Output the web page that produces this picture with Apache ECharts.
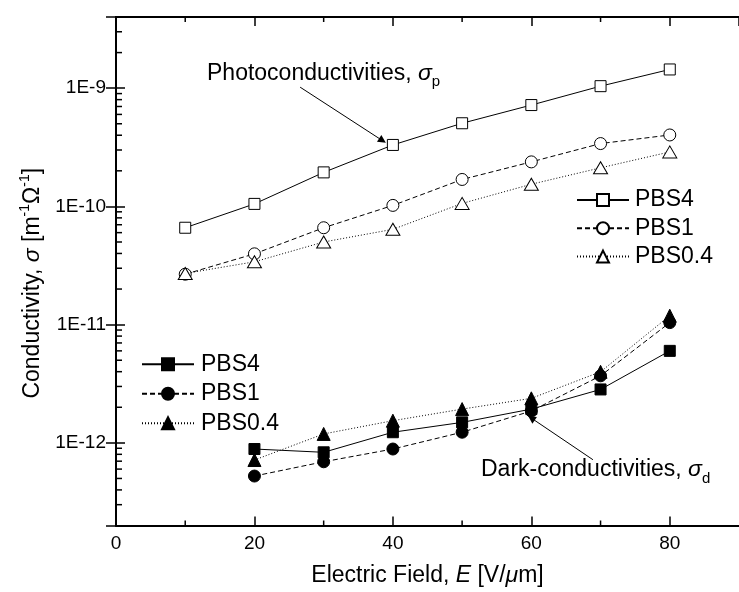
<!DOCTYPE html>
<html><head><meta charset="utf-8">
<script src="https://cdn.jsdelivr.net/npm/echarts@6/dist/echarts.min.js"></script>
<style>html,body{margin:0;padding:0;background:#fff}#c{width:739px;height:592px}</style>
</head><body><div id="c"></div>
<script>
// ---- data ----
const fieldValues = [10, 20, 30, 40, 50, 60, 70, 80];
const darkFieldValues = [20, 30, 40, 50, 60, 70, 80];
const photoPBS4 = [6.6e-11, 1.05e-10, 1.94e-10, 3.31e-10, 5.05e-10, 7.2e-10, 1.04e-9, 1.44e-9];
const photoPBS1 = [2.67e-11, 3.97e-11, 6.6e-11, 1.02e-10, 1.69e-10, 2.38e-10, 3.4e-10, 4.02e-10];
const photoPBS04 = [2.71e-11, 3.4e-11, 5.0e-11, 6.4e-11, 1.06e-10, 1.54e-10, 2.12e-10, 2.89e-10];
const darkPBS4 = [8.87e-13, 8.32e-13, 1.23e-12, 1.49e-12, 1.93e-12, 2.83e-12, 6.0e-12];
const darkPBS1 = [5.24e-13, 6.92e-13, 8.87e-13, 1.23e-12, 1.86e-12, 3.69e-12, 1.04e-11];
const darkPBS04 = [7.16e-13, 1.19e-12, 1.54e-12, 1.93e-12, 2.38e-12, 3.99e-12, 1.19e-11];
const photoNames = ['PBS4', 'PBS1', 'PBS0.4'];
const darkNames = ['PBS4 ', 'PBS1 ', 'PBS0.4 '];
const xTickValues = [0, 20, 40, 60, 80];
const xTickLabels = ['0', '20', '40', '60', '80'];
const xMinorTicks = [10, 30, 50, 70];
const yTickValues = [1e-12, 1e-11, 1e-10, 1e-9];
const yTickLabels = ['1E-12', '1E-11', '1E-10', '1E-9'];
const yMinorMultipliers = [2, 3, 4, 5, 6, 7, 8, 9];
const yMinorDecades = [1e-13, 1e-12, 1e-11, 1e-10, 1e-9];
const xRange = [0, 90];
const yRange = [2e-13, 4e-9];
// annotation arrows in data coordinates [x, y]
const photoArrow = [[26.6, 1.02e-9], [38.5, 3.6e-10]];
const darkArrow = [[68.9, 7.2e-13], [60.0, 1.62e-12]];

const FF = '"Liberation Sans", Arial, sans-serif';
const yMinorTicks = [];
yMinorDecades.forEach(d => yMinorMultipliers.forEach(m => {
  const v = m * d;
  if (v > yRange[0] * 1.0001 && v < yRange[1] * 0.9999) yMinorTicks.push(v);
}));

function lineSeries(name, xs, ys, symbol, size, filled, dash) {
  return {
    type: 'line', name: name,
    data: xs.map((x, i) => [x, ys[i]]),
    symbol: symbol, symbolSize: size, showAllSymbol: true,
    lineStyle: { color: '#000', width: 1, type: dash },
    itemStyle: { color: filled ? '#000' : '#fff', borderColor: '#000', borderWidth: 1 },
    emphasis: { disabled: true }, silent: true, animation: false, z: 3
  };
}

const sPhoto4 = lineSeries(photoNames[0], fieldValues, photoPBS4, 'rect', 11, false, 'solid');
const sPhoto1 = lineSeries(photoNames[1], fieldValues, photoPBS1, 'circle', 12, false, [5, 3]);
const sPhoto04 = lineSeries(photoNames[2], fieldValues, photoPBS04, 'triangle', [14, 12], false, [1, 2]);
const sDark4 = lineSeries(darkNames[0], darkFieldValues, darkPBS4, 'rect', 11, true, 'solid');
const sDark1 = lineSeries(darkNames[1], darkFieldValues, darkPBS1, 'circle', 12, true, [5, 3]);
const sDark04 = lineSeries(darkNames[2], darkFieldValues, darkPBS04, 'triangle', [13, 13], true, [1, 2]);

function arrowMark(pts) {
  return {
    silent: true, symbol: ['none', 'triangle'], symbolSize: 8,
    label: { show: false }, emphasis: { disabled: true },
    lineStyle: { color: '#000', width: 1, type: 'solid' },
    itemStyle: { color: '#000' },
    data: [[{ coord: pts[0] }, { coord: pts[1] }]]
  };
}
sPhoto4.markLine = arrowMark(photoArrow);
sDark4.markLine = arrowMark(darkArrow);

const tickLine = { lineStyle: { color: '#000', width: 1.5 } };
const axisLine = { lineStyle: { color: '#000', width: 2 } };

const option = {
  animation: false,
  backgroundColor: '#fff',
  grid: { left: 116, top: 17, right: -6, bottom: 66, containLabel: false },
  xAxis: [
    {
      type: 'value', min: xRange[0], max: xRange[1], interval: 20, position: 'bottom',
      axisLine: axisLine, axisTick: Object.assign({ inside: true, length: 9 }, tickLine),
      splitLine: { show: false },
      axisLabel: {
        color: '#000', fontFamily: FF, fontSize: 19, margin: 9,
        showMaxLabel: false,
        formatter: v => { const i = xTickValues.indexOf(v); return i >= 0 ? xTickLabels[i] : ''; }
      },
      name: '{a|Electric Field, }{i|E}{a| [V/}{i|μ}{a|m]}',
      nameLocation: 'middle', nameGap: 35,
      nameTextStyle: {
        color: '#000', fontFamily: FF, fontSize: 23,
        rich: {
          a: { fontFamily: FF, fontSize: 23, color: '#000', lineHeight: 30 },
          i: { fontFamily: FF, fontSize: 23, fontStyle: 'italic', color: '#000', lineHeight: 30 }
        }
      }
    },
    {
      type: 'value', min: xRange[0], max: xRange[1], interval: 20, position: 'top',
      axisLine: axisLine, axisTick: Object.assign({ inside: true, length: 9 }, tickLine),
      splitLine: { show: false }, axisLabel: { show: false }
    }
  ],
  yAxis: [
    {
      type: 'log', logBase: 10, min: yRange[0], max: yRange[1], position: 'left',
      axisLine: axisLine, axisTick: Object.assign({ inside: true, length: 9 }, tickLine),
      splitLine: { show: false }, minorTick: { show: false },
      axisLabel: {
        color: '#000', fontFamily: FF, fontSize: 19, margin: 10,
        formatter: v => {
          const i = yTickValues.findIndex(t => Math.abs(Math.log10(v) - Math.log10(t)) < 1e-6);
          return i >= 0 ? yTickLabels[i] : '';
        }
      },
      name: '{a|Conductivity, }{i|σ}{a| [m}{sup|-1}{a|Ω}{sup|-1}{a|]}',
      nameLocation: 'middle', nameGap: 68, nameRotate: 90,
      nameTextStyle: {
        color: '#000', fontFamily: FF, fontSize: 23, padding: [0, 24, 0, 0],
        rich: {
          a: { fontFamily: FF, fontSize: 23, color: '#000', lineHeight: 30 },
          i: { fontFamily: FF, fontSize: 23, fontStyle: 'italic', color: '#000', lineHeight: 30 },
          sup: { fontFamily: FF, fontSize: 14, color: '#000', verticalAlign: 'top' }
        }
      }
    },
    {
      type: 'log', logBase: 10, min: yRange[0], max: yRange[1], position: 'right',
      axisLine: axisLine, axisTick: Object.assign({ inside: true, length: 10 }, tickLine),
      splitLine: { show: false }, axisLabel: { show: false }
    }
  ],
  legend: [
    {
      data: photoNames, orient: 'vertical', left: 576, top: 188.5, padding: 0,
      itemWidth: 52, itemHeight: 15, itemGap: 5.3, selectedMode: false,
      textStyle: { color: '#000', fontFamily: FF, fontSize: 23, padding: [0, 0, 0, 1] }
    },
    {
      data: darkNames, orient: 'vertical', left: 141, top: 352.8, padding: 0,
      itemWidth: 52, itemHeight: 15, itemGap: 6.5, selectedMode: false,
      formatter: n => n.trim(),
      textStyle: { color: '#000', fontFamily: FF, fontSize: 23, padding: [0, 0, 0, 2] }
    }
  ],
  series: [
    sPhoto4, sPhoto1, sPhoto04, sDark4, sDark1, sDark04,
    {
      type: 'custom', name: 'yMinorTicks', silent: true, clip: false, z: 10,
      data: yMinorTicks.map(v => [xRange[0], v]),
      encode: { x: 0, y: 1 },
      renderItem: (params, api) => {
        const p = api.coord([xRange[0], api.value(1)]);
        return { type: 'line', shape: { x1: p[0], y1: p[1], x2: p[0] + 6, y2: p[1] },
                 style: { stroke: '#000', lineWidth: 1.5 } };
      }
    },
    {
      type: 'custom', name: 'xMinorTicks', silent: true, clip: false, z: 10,
      data: xMinorTicks.map(v => [v, yRange[0]]),
      encode: { x: 0, y: 1 },
      renderItem: (params, api) => {
        const b = api.coord([api.value(0), yRange[0]]);
        const t = api.coord([api.value(0), yRange[1]]);
        return { type: 'group', children: [
          { type: 'line', shape: { x1: b[0], y1: b[1], x2: b[0], y2: b[1] - 5 }, style: { stroke: '#000', lineWidth: 1.5 } },
          { type: 'line', shape: { x1: t[0], y1: t[1], x2: t[0], y2: t[1] + 5 }, style: { stroke: '#000', lineWidth: 1.5 } }
        ] };
      }
    }
  ],
  graphic: [
    {
      type: 'text', x: 207, y: 73.5, silent: true,
      style: {
        text: '{a|Photoconductivities, }{i|σ}{s|p}', verticalAlign: 'middle', align: 'left',
        rich: {
          a: { fontFamily: FF, fontSize: 23, fill: '#000', lineHeight: 32 },
          i: { fontFamily: FF, fontSize: 23, fontStyle: 'italic', fill: '#000', lineHeight: 32 },
          s: { fontFamily: FF, fontSize: 15, fill: '#000', verticalAlign: 'bottom' }
        }
      }
    },
    {
      type: 'text', x: 481, y: 470, silent: true,
      style: {
        text: '{a|Dark-conductivities, }{i|σ}{s|d}', verticalAlign: 'middle', align: 'left',
        rich: {
          a: { fontFamily: FF, fontSize: 23, fill: '#000', lineHeight: 32 },
          i: { fontFamily: FF, fontSize: 23, fontStyle: 'italic', fill: '#000', lineHeight: 32 },
          s: { fontFamily: FF, fontSize: 15, fill: '#000', verticalAlign: 'bottom' }
        }
      }
    }
  ]
};

const chart = echarts.init(document.getElementById('c'), null, { renderer: 'canvas' });
chart.setOption(option);
</script>
</body></html>
